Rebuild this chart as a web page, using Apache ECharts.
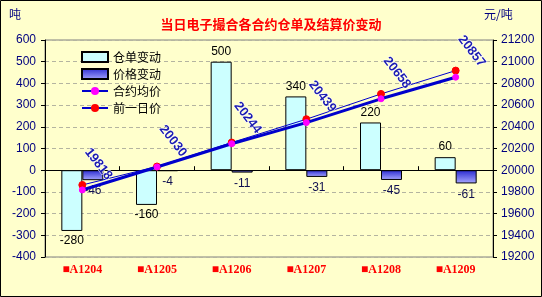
<!DOCTYPE html>
<html>
<head>
<meta charset="utf-8">
<script src="https://cdn.jsdelivr.net/npm/echarts@6/dist/echarts.min.js"></script>
<style>
  html, body { margin: 0; padding: 0; background: #FFFFCC; }
  #chart { width: 542px; height: 297px; }
</style>
</head>
<body>
<div id="chart"></div>
<script>
// Contracts traded on the electronic board
const categories = ['■A1204', '■A1205', '■A1206', '■A1207', '■A1208', '■A1209'];
// Warehouse receipt change (tonnes)
const receiptChange = [-280, -160, 500, 340, 220, 60];
// Settlement price change (yuan/tonne)
const priceChange = [-46, -4, -11, -31, -45, -61];
// Contract average price (yuan/tonne)
const avgPrice = [19818, 20030, 20244, 20439, 20658, 20857];
// Previous day's price (yuan/tonne)
const prevPrice = [19864, 20034, 20255, 20470, 20703, 20918];
// Axis ranges
const leftTicks = { min: -400, max: 600, interval: 100 };
const rightTicks = { min: 19200, max: 21200, interval: 200 };

const chart = echarts.init(document.getElementById('chart'));
const numFont = 'Liberation Sans, Arial, sans-serif';
const cjkFont = 'Noto Sans CJK SC, sans-serif';
const plain = v => String(v);

chart.setOption({
  backgroundColor: '#FFFFCC',
  animation: false,
  title: {
    text: '当日电子撮合各合约仓单及结算价变动',
    left: 'center',
    top: 13,
    textStyle: { color: '#FF0000', fontSize: 13, fontWeight: 'bold', fontFamily: cjkFont }
  },
  graphic: [
    { type: 'rect', shape: { x: 0.5, y: 0.5, width: 541, height: 296 },
      style: { fill: 'none', stroke: '#000', lineWidth: 1 }, z: 100 },
    { type: 'text', left: 9, top: 8,
      style: { text: '吨', fill: '#000080', font: '12px ' + cjkFont } },
    { type: 'text', left: 484, top: 8,
      style: { text: '元/吨', fill: '#000080', font: '12px ' + cjkFont } }
  ],
  legend: {
    orient: 'vertical',
    left: 76,
    top: 46,
    itemWidth: 26,
    itemHeight: 10,
    itemGap: 5,
    textStyle: { color: '#000', fontSize: 12, fontFamily: cjkFont },
    data: [
      { name: '仓单变动', icon: 'rect' },
      { name: '价格变动', icon: 'rect' },
      { name: '合约均价' },
      { name: '前一日价' }
    ]
  },
  grid: {
    left: 45, right: 49, top: 40, bottom: 40,
    outerBoundsMode: 'none',
    containLabel: false,
    show: true, backgroundColor: 'transparent', borderColor: '#808080', borderWidth: 1
  },
  xAxis: [
    {
      // zero line with category separators
      type: 'category',
      data: categories,
      axisLine: { onZero: true, lineStyle: { color: '#000', width: 1 } },
      axisTick: { show: true, inside: true, length: 4, lineStyle: { color: '#000' } },
      axisLabel: { show: false },
      splitLine: { show: false }
    },
    {
      // contract names along the bottom edge
      type: 'category',
      data: categories,
      position: 'bottom',
      axisLine: { show: false, onZero: false },
      axisTick: { show: false },
      axisLabel: { color: '#FF0000', fontWeight: 'bold', fontSize: 12, fontFamily: 'Liberation Serif, serif', margin: 7 },
      splitLine: { show: false }
    }
  ],
  yAxis: [
    {
      type: 'value',
      min: leftTicks.min, max: leftTicks.max, interval: leftTicks.interval,
      axisLine: { show: true, lineStyle: { color: '#000' } },
      axisTick: { show: true, length: 4, lineStyle: { color: '#000' } },
      axisLabel: { color: '#000080', fontSize: 12, fontFamily: numFont, margin: 9, formatter: plain },
      splitLine: { show: true, lineStyle: { color: '#b4b4a0', type: [4, 3] } }
    },
    {
      type: 'value',
      min: rightTicks.min, max: rightTicks.max, interval: rightTicks.interval,
      axisLine: { show: true, lineStyle: { color: '#000' } },
      axisTick: { show: true, length: 4, lineStyle: { color: '#000' } },
      axisLabel: { color: '#000080', fontSize: 12, fontFamily: numFont, margin: 8, formatter: plain },
      splitLine: { show: false }
    }
  ],
  series: [
    {
      name: '仓单变动',
      type: 'bar',
      data: receiptChange,
      barWidth: 21,
      barGap: '0%',
      itemStyle: { color: '#CCFFFF', borderColor: '#000', borderWidth: 1 },
      label: {
        show: true, position: 'outside', distance: 4,
        color: '#000', fontSize: 12, fontFamily: numFont
      },
      z: 2
    },
    {
      name: '价格变动',
      type: 'bar',
      data: priceChange,
      barWidth: 21,
      itemStyle: {
        color: new echarts.graphic.LinearGradient(0, 0, 0, 1, [
          { offset: 0, color: '#2a2ad0' },
          { offset: 1, color: '#a8a8ff' }
        ]),
        borderColor: '#000', borderWidth: 1
      },
      label: {
        show: true, position: 'bottom', distance: 5,
        color: '#101050', fontSize: 12, fontFamily: numFont
      },
      z: 2
    },
    {
      name: '前一日价',
      type: 'line',
      yAxisIndex: 1,
      data: prevPrice,
      symbol: 'circle',
      symbolSize: 7,
      lineStyle: { color: '#0000CC', width: 1 },
      itemStyle: { color: '#FF0000', borderColor: '#FF0000' },
      z: 3
    },
    {
      name: '合约均价',
      type: 'line',
      yAxisIndex: 1,
      data: avgPrice,
      symbol: 'circle',
      symbolSize: 6,
      lineStyle: { color: '#0000CC', width: 3 },
      itemStyle: { color: '#FF00FF', borderColor: '#FF00FF' },
      label: {
        show: true,
        position: 'inside',
        color: '#1c1cb0',
        fontWeight: 'bold',
        fontSize: 13,
        fontFamily: numFont,
        textBorderColor: '#ffffff',
        textBorderWidth: 1
      },
      // place each price label diagonally above its point
      labelLayout: function (params) {
        const r = params.rect;
        return {
          x: r.x + r.width / 2 + 16,
          y: r.y + r.height / 2 - 26,
          rotate: -52,
          align: 'center',
          verticalAlign: 'middle'
        };
      },
      z: 4
    }
  ]
});
</script>
</body>
</html>
